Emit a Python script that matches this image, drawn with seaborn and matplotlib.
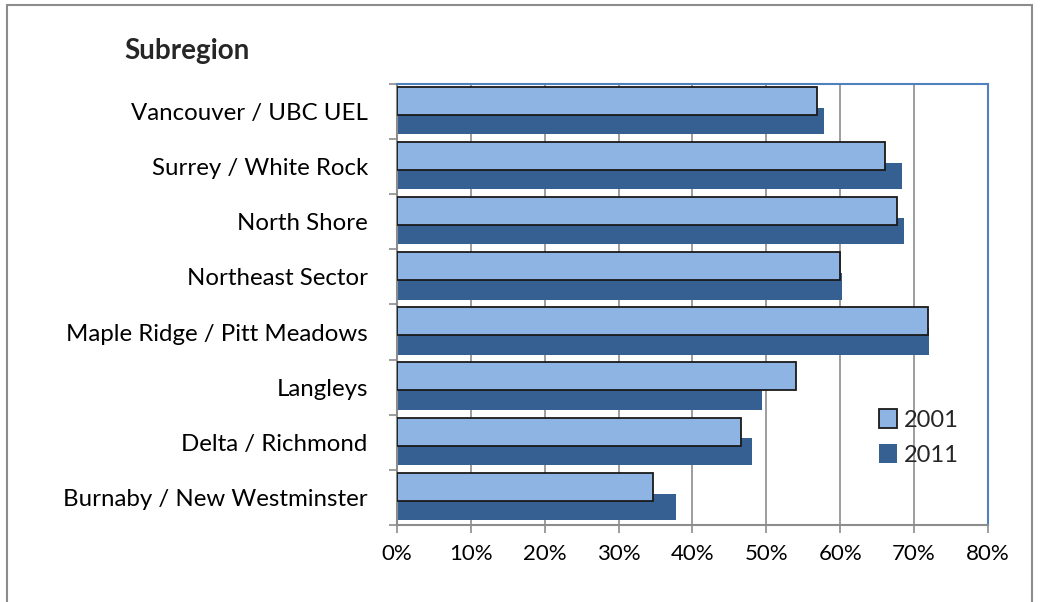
import numpy as np
import pandas as pd
import matplotlib
matplotlib.use('Agg')
import matplotlib.pyplot as plt
from matplotlib.patches import Rectangle
from matplotlib.ticker import FixedLocator, PercentFormatter
import seaborn as sns

sns.set_style('white')
plt.rcParams['font.family'] = ['Lato', 'DejaVu Sans']

# Data
subregions = ['Vancouver / UBC UEL', 'Surrey / White Rock', 'North Shore',
              'Northeast Sector', 'Maple Ridge / Pitt Meadows', 'Langleys',
              'Delta / Richmond', 'Burnaby / New Westminster']
share_2001 = [56.9, 66.0, 67.7, 59.9, 71.85, 54.0, 46.5, 34.6]
share_2011 = [57.8, 68.4, 68.6, 60.3, 72.0, 49.4, 48.0, 37.8]
years = ['2001', '2011']
colors = ['#8EB4E3', '#366092']

df = pd.DataFrame({
    'Subregion': subregions * 2,
    'Share': share_2001 + share_2011,
    'Year': [years[0]] * len(subregions) + [years[1]] * len(subregions),
})

fig = plt.figure(figsize=(10.4, 6.02), dpi=100)
ax = fig.add_axes([0.3817, 0.1279, 0.5683, 0.7326])

sns.barplot(data=df, x='Share', y='Subregion', hue='Year', order=subregions,
            hue_order=years, palette=colors, width=0.9, saturation=1,
            ax=ax, errorbar=None)

# Excel-style overlapping bars: 2001 in front with a dark edge
n = len(subregions)
for i, p in enumerate(ax.patches[:2 * n]):
    if i < n:
        p.set_edgecolor('#1a1a1a')
        p.set_linewidth(1.3)
        p.set_height(0.51)
        p.set_zorder(3)
    else:
        p.set_y(p.get_y() - 0.07)
        p.set_height(0.48)
        p.set_edgecolor('none')
        p.set_zorder(2)

ax.set_xlim(0, 80)
ax.set_ylim(n - 0.5, -0.5)
ax.set_xticks(np.arange(0, 81, 10))
ax.xaxis.set_major_formatter(PercentFormatter(decimals=0))
ax.grid(axis='x', color='#8c8c8c', linewidth=1.2, zorder=0)
ax.set_axisbelow(True)

ax.yaxis.set_minor_locator(FixedLocator(np.arange(-0.5, n, 1.0)))
ax.tick_params(axis='y', which='major', length=0, pad=21, labelsize=17.3,
               labelcolor='black')
ax.tick_params(axis='y', which='minor', length=6, width=1.2, color='#8c8c8c',
               direction='out', left=True)
ax.tick_params(axis='x', which='major', length=6, width=1.2, color='#8c8c8c',
               direction='out', bottom=True, pad=8, labelsize=16,
               labelcolor='black')

for side in ['left', 'bottom']:
    ax.spines[side].set_color('#8c8c8c')
    ax.spines[side].set_linewidth(1.5)
for side in ['top', 'right']:
    ax.spines[side].set_color('#4F81BD')
    ax.spines[side].set_linewidth(1.5)

ax.set_xlabel('')
ax.set_ylabel('')

leg = ax.legend(handles=[ax.patches[0], ax.patches[n]], labels=years,
                frameon=False, loc='upper left', bbox_to_anchor=(0.8, 0.285),
                fontsize=17, handlelength=0.75, handleheight=0.9,
                handletextpad=0.3, labelspacing=0.55, borderaxespad=0)

fig.text(0.12, 0.915, 'Subregion', fontsize=20, fontweight='bold',
         ha='left', va='center')

# chart border
fig.patches.append(Rectangle((7 / 1040, -0.01), 1025 / 1040, 1 - 5 / 602 + 0.01,
                             transform=fig.transFigure, fill=False,
                             edgecolor='#8c8c8c', linewidth=1.5))

plt.savefig('out.png', dpi=100)
